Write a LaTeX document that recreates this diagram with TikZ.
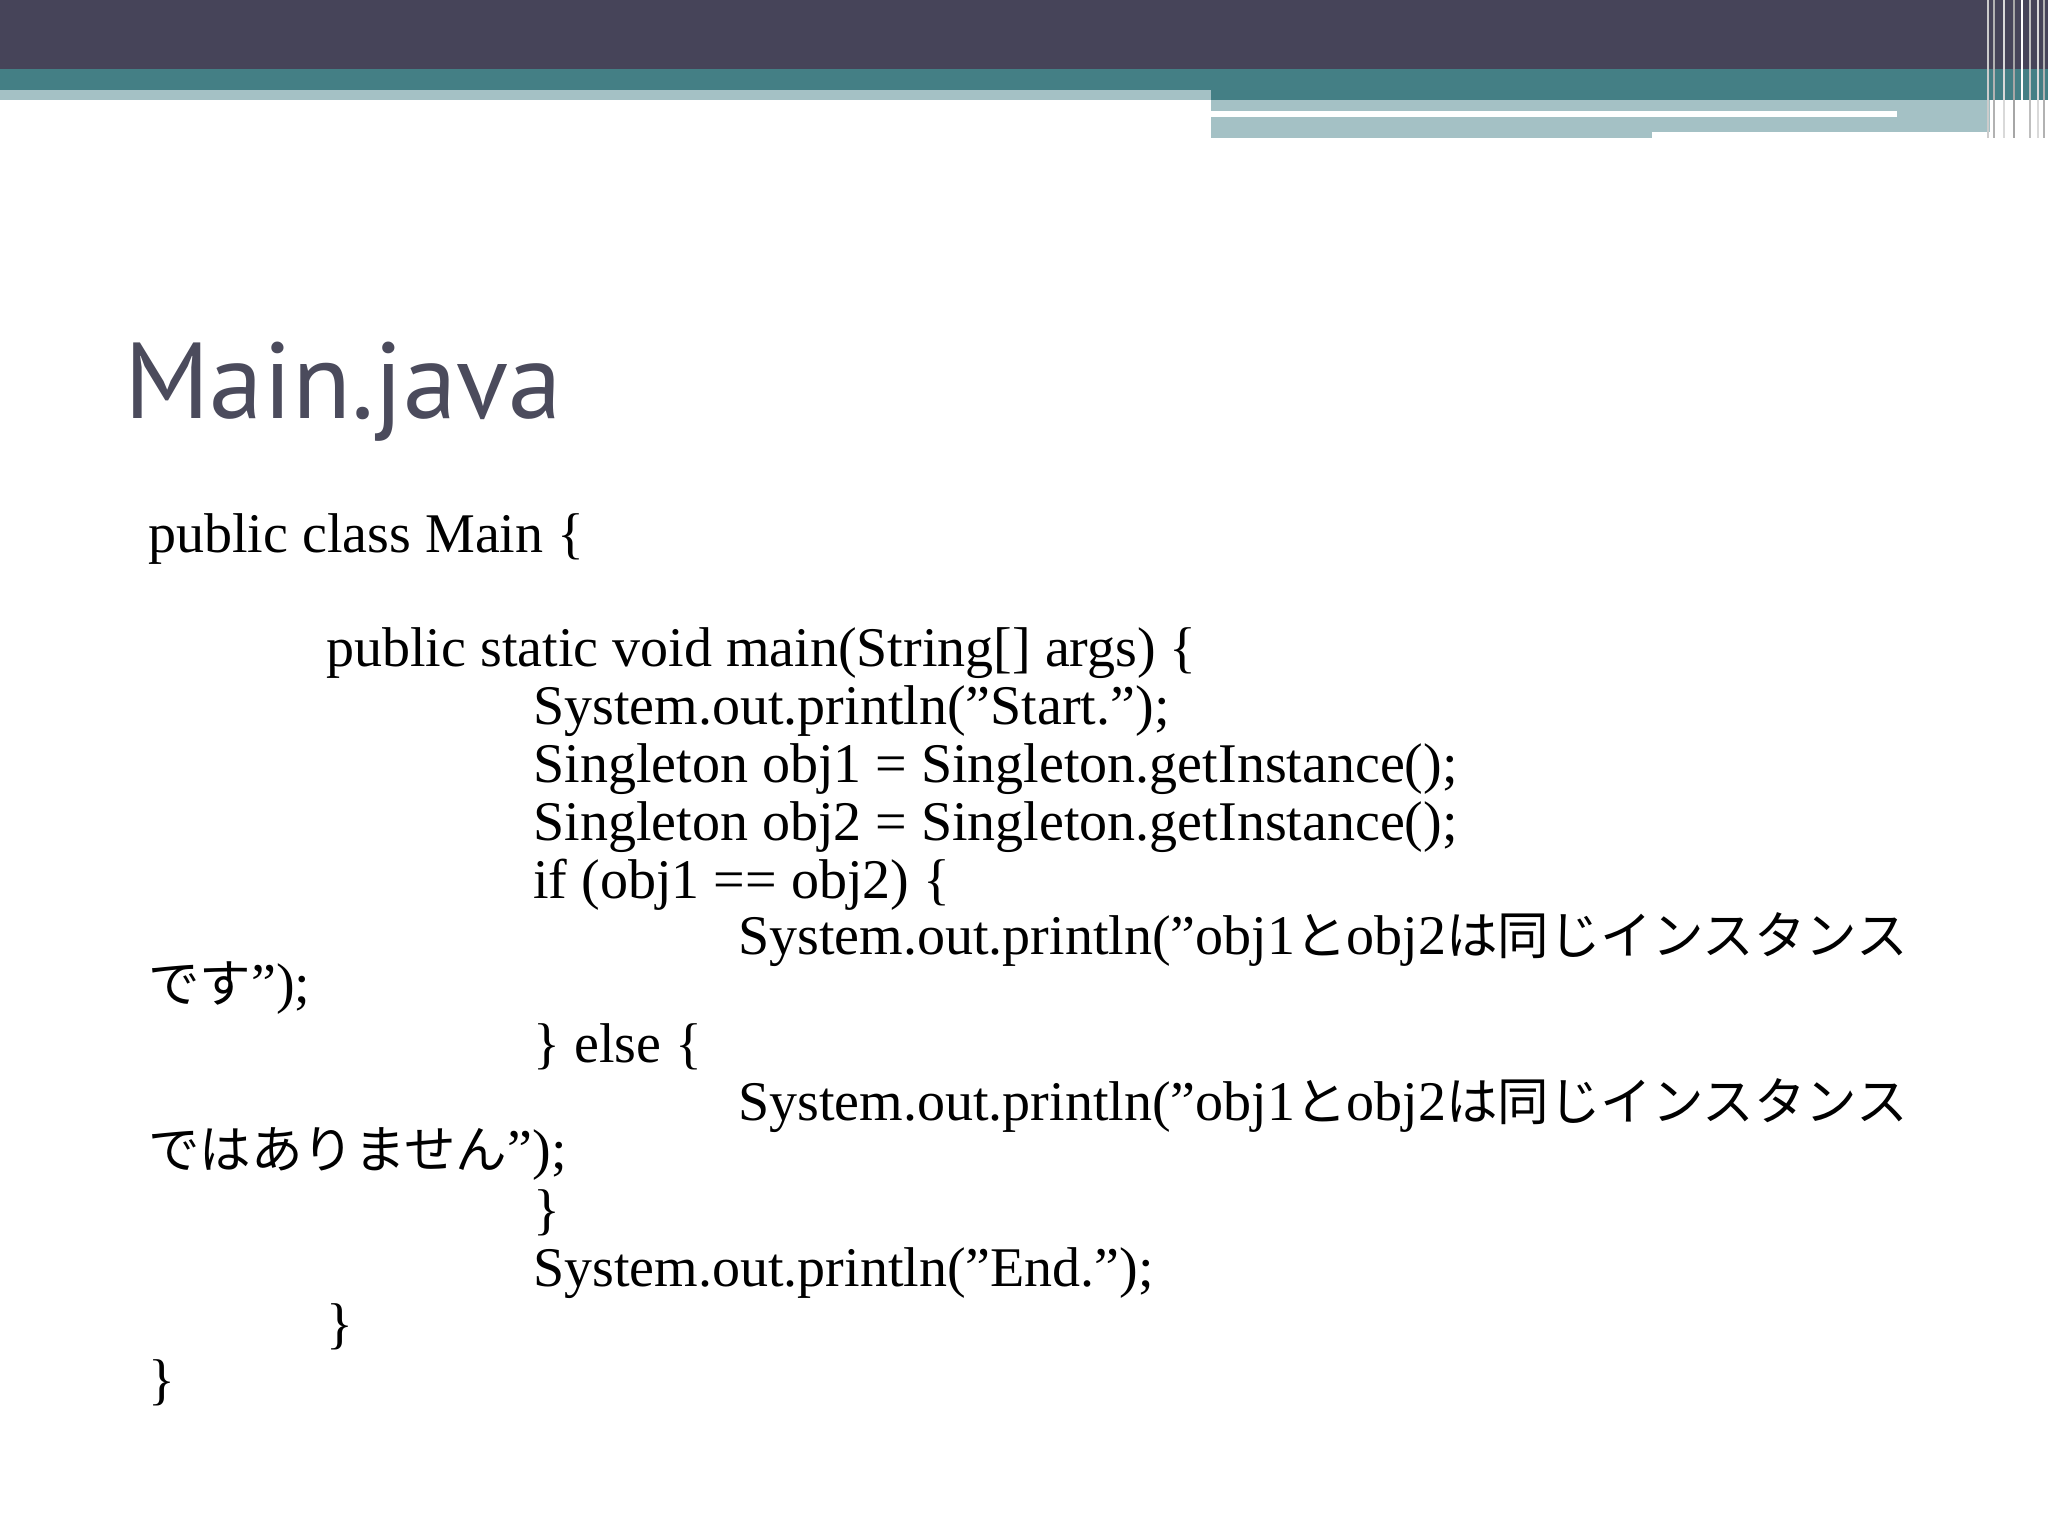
\documentclass[tikz,border=0pt]{standalone}
\usepackage{fontspec}
\setmainfont{Liberation Serif}
\newfontfamily\titlefont{PT Sans}
\newfontfamily\jp{Noto Sans CJK JP}[Scale=0.92]
\definecolor{dark}{HTML}{464459}
\definecolor{teal}{HTML}{447F85}
\definecolor{light}{HTML}{A4C1C5}
\definecolor{titlec}{HTML}{4B4B5C}
\tikzset{code/.style={anchor=base west,inner sep=0pt,font=\fontsize{28}{30}\selectfont}}
\begin{document}
\begin{tikzpicture}[x=1pt,y=-1pt]
\useasboundingbox (0,0) rectangle (1024,768);
\fill[white] (0,0) rectangle (1024,768);
\fill[dark] (0,0) rectangle (1024,34.5);
\fill[teal] (0,34.5) rectangle (1024,50);
\fill[light] (0,45) rectangle (605.5,50);
\fill[light] (605.5,50) rectangle (995,69);
\fill[white] (605.5,55.5) rectangle (948.5,58.5);
\fill[white] (826,66) rectangle (995,69);
\foreach \x/\c in {994/gray!40,997/gray!60,1002/gray!30,1007/gray!70,1011/white,1015/gray!50,1019/gray!30,1022/gray!60}
  \draw[\c,line width=1.2pt] (\x,0) -- (\x,69);
\node[anchor=base west,inner sep=0pt,text=titlec,font=\titlefont\fontsize{54}{60}\selectfont] (title) at (62,209) {Main.java};
\node[code] (l1) at (74,276) {public class Main \{};
\node[code] (l2) at (163,333) {public static void main(String[] args) \{};
\node[code] (l3) at (266.5,362) {System.out.println("Start.");};
\node[code] (l4) at (266.5,391) {Singleton obj1 = Singleton.getInstance();};
\node[code] (l5) at (266.5,420) {Singleton obj2 = Singleton.getInstance();};
\node[code] (l6) at (266.5,449) {if (obj1 == obj2) \{};
\node[code] (l7) at (369,477) {System.out.println("obj1{\jp と}obj2{\jp は同じインスタンス}};
\node[code] (l8) at (74,501) {{\jp です}");};
\node[code] (l9) at (266.5,531) {\} else \{};
\node[code] (l10) at (369,560) {System.out.println("obj1{\jp と}obj2{\jp は同じインスタンス}};
\node[code] (l11) at (74,584) {{\jp ではありません}");};
\node[code] (l12) at (266.5,614) {\}};
\node[code] (l13) at (266.5,643) {System.out.println("End.");};
\node[code] (l14) at (163,671) {\}};
\node[code] (l15) at (74,699) {\}};
\end{tikzpicture}
\end{document}
